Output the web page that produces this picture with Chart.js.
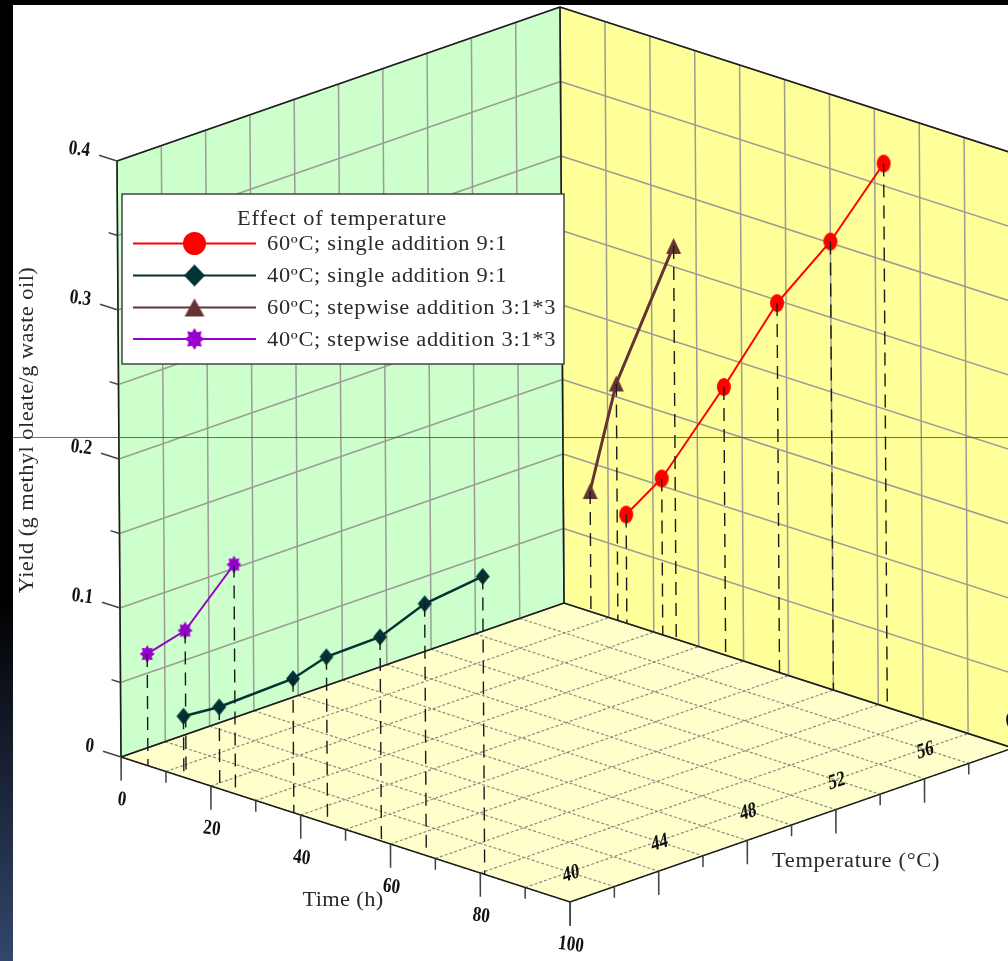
<!DOCTYPE html>
<html>
<head>
<meta charset="utf-8">
<title>Effect of temperature</title>
<script src="https://cdn.jsdelivr.net/npm/chart.js@4/dist/chart.umd.min.js"></script>
<style>
    html, body { margin: 0; padding: 0; background: #fff; overflow: hidden; }
    #wrap { position: relative; width: 1008px; height: 961px; }
    #franjaIzq { position: absolute; left: 0; top: 0; width: 13px; height: 961px; background: linear-gradient(#000 0%, #000 62%, #33466c 100%); }
    #franjaSup { position: absolute; left: 0; top: 0; width: 1008px; height: 5px; background: #000; }
    #rayaHoriz { position: absolute; left: 13px; top: 437px; width: 995px; height: 1px; background: rgba(60, 70, 60, 0.75); }
</style>
</head>
<body>
<div id="wrap">
    <canvas id="grafico" width="1008" height="961"></canvas>
    <div id="franjaIzq"></div>
    <div id="franjaSup"></div>
    <div id="rayaHoriz"></div>
</div>
<script>
// Series: time (h) and yield
const tiempo60Simple = [14, 22, 36, 48, 60, 72];
const yield60Simple = [0.073, 0.105, 0.18, 0.248, 0.301, 0.365];
const tiempo40Simple = [14, 22, 38.5, 46, 58, 68, 81];
const yield40Simple = [0.041, 0.055, 0.09, 0.112, 0.137, 0.169, 0.2];
const tiempo60Step = [6, 12, 25];
const yield60Step = [0.081, 0.159, 0.264];
const tiempo40Step = [6, 14.5, 25.5];
const yield40Step = [0.075, 0.099, 0.154];

const ticksTiempo = [0, 20, 40, 60, 80, 100];
const ticksTemp = [40, 44, 48, 52, 56, 60];
const ticksYield = [0, 0.1, 0.2, 0.3, 0.4];
const gridTiempo = [0, 10, 20, 30, 40, 50, 60, 70, 80, 90, 100];
const gridTemp = [40, 42, 44, 46, 48, 50, 52, 54, 56, 58, 60];
const gridYield = [0, 0.05, 0.1, 0.15, 0.2, 0.25, 0.3, 0.35, 0.4];

const tituloLeyenda = "Effect of temperature";
const etiquetas = [
    "60ºC; single addition 9:1",
    "40ºC; single addition 9:1",
    "60ºC; stepwise addition 3:1*3",
    "40ºC; stepwise addition 3:1*3"
];
const colores = ["#ff0000", "#003333", "#663333", "#9900cc"];

// Oblique projection of (time, temperature, yield) to the chart's x/y scales
function proyectar(t, temp, y) {
    return {
        x: 121 + 4.49 * t + 22.15 * (temp - 40) - 10 * y,
        y: 757 + 1.45 * t - 7.7 * (temp - 40) - 1490 * y
    };
}

// Markers are taller than wide, as in the tilted plot
function crearMarcador(tipo, w, h, color) {
    const c = document.createElement("canvas");
    c.width = w + 2;
    c.height = h + 2;
    const g = c.getContext("2d");
    const cx = c.width / 2, cy = c.height / 2;
    g.fillStyle = color;
    g.beginPath();
    if (tipo === "circulo") {
        g.ellipse(cx, cy, w / 2, h / 2, 0, 0, Math.PI * 2);
    } else if (tipo === "rombo") {
        g.moveTo(cx, cy - h / 2);
        g.lineTo(cx + w / 2, cy);
        g.lineTo(cx, cy + h / 2);
        g.lineTo(cx - w / 2, cy);
    } else if (tipo === "triangulo") {
        g.moveTo(cx, cy - h / 2);
        g.lineTo(cx + w / 2, cy + h / 2);
        g.lineTo(cx - w / 2, cy + h / 2);
    } else {
        for (let i = 0; i < 16; i++) {
            const r = i % 2 === 0 ? 1 : 0.66;
            const a = i * Math.PI / 8 - Math.PI / 2;
            g.lineTo(cx + Math.cos(a) * r * w / 2, cy + Math.sin(a) * r * h / 2);
        }
    }
    g.closePath();
    g.fill();
    return c;
}

function linea(puntos, color, ancho, dash) {
    return {
        data: puntos,
        showLine: true,
        borderColor: color,
        borderWidth: ancho,
        borderDash: dash || [],
        pointRadius: 0,
        fill: false
    };
}

function plano(puntos, color) {
    return {
        data: puntos.concat([puntos[0]]),
        showLine: true,
        borderColor: color,
        backgroundColor: color,
        borderWidth: 0,
        pointRadius: 0,
        fill: "shape"
    };
}

const datasets = [];
const tMax = 100, tempMin = 40, tempMax = 60, yMax = 0.4;

// Walls and floor
datasets.push(plano([proyectar(0, tempMax, 0), proyectar(tMax, tempMax, 0), proyectar(tMax, tempMax, yMax), proyectar(0, tempMax, yMax)], "#ffff99"));
datasets.push(plano([proyectar(0, tempMin, 0), proyectar(0, tempMax, 0), proyectar(0, tempMax, yMax), proyectar(0, tempMin, yMax)], "#ccffcc"));
datasets.push(plano([proyectar(0, tempMin, 0), proyectar(tMax, tempMin, 0), proyectar(tMax, tempMax, 0), proyectar(0, tempMax, 0)], "#ffffcc"));

// Grid lines
const grisPared = "#9c9c94", grisPiso = "#8c8c84";
gridYield.forEach((y) => {
    datasets.push(linea([proyectar(0, tempMin, y), proyectar(0, tempMax, y)], grisPared, 1.5));
    datasets.push(linea([proyectar(0, tempMax, y), proyectar(tMax, tempMax, y)], grisPared, 1.5));
});
gridTemp.forEach((temp) => {
    datasets.push(linea([proyectar(0, temp, 0), proyectar(0, temp, yMax)], grisPared, 1.5));
    datasets.push(linea([proyectar(0, temp, 0), proyectar(tMax, temp, 0)], grisPiso, 1.2, [3, 2]));
});
gridTiempo.forEach((t) => {
    datasets.push(linea([proyectar(t, tempMax, 0), proyectar(t, tempMax, yMax)], grisPared, 1.5));
    datasets.push(linea([proyectar(t, tempMin, 0), proyectar(t, tempMax, 0)], grisPiso, 1.2, [3, 2]));
});

// Box edges
const negro = "#1c1c1c";
datasets.push(linea([proyectar(0, tempMin, 0), proyectar(tMax, tempMin, 0), proyectar(tMax, tempMax, 0)], negro, 1.6));
datasets.push(linea([proyectar(0, tempMin, 0), proyectar(0, tempMax, 0), proyectar(tMax, tempMax, 0)], negro, 1.6));
datasets.push(linea([proyectar(0, tempMin, 0), proyectar(0, tempMin, yMax), proyectar(0, tempMax, yMax), proyectar(tMax, tempMax, yMax)], negro, 1.6));
datasets.push(linea([proyectar(0, tempMax, 0), proyectar(0, tempMax, yMax)], negro, 1.6));

// Axis ticks, long on labelled values and short in between
const grisTick = "#444444";
gridTiempo.forEach((t) => {
    const largo = ticksTiempo.includes(t) ? 0.016 : 0.0075;
    datasets.push(linea([proyectar(t, tempMin, 0), proyectar(t, tempMin, -largo)], grisTick, 1.5));
});
gridTemp.forEach((temp) => {
    const largo = ticksTemp.includes(temp) ? 0.016 : 0.0075;
    datasets.push(linea([proyectar(tMax, temp, 0), proyectar(tMax, temp, -largo)], grisTick, 1.5));
});
gridYield.forEach((y) => {
    const largo = ticksYield.includes(y) ? 4 : 2;
    datasets.push(linea([proyectar(0, tempMin, y), proyectar(-largo, tempMin, y)], grisTick, 1.5));
});

// Data series with their drop lines
const series = [
    { t: tiempo60Simple, y: yield60Simple, temp: 60, tipo: "circulo", w: 14, h: 18, ancho: 2 },
    { t: tiempo40Simple, y: yield40Simple, temp: 40, tipo: "rombo", w: 14, h: 17, ancho: 2.5 },
    { t: tiempo60Step, y: yield60Step, temp: 60, tipo: "triangulo", w: 15, h: 16, ancho: 3 },
    { t: tiempo40Step, y: yield40Step, temp: 40, tipo: "estrella", w: 15, h: 18, ancho: 2 }
];
const marcasLeyenda = [
    crearMarcador("circulo", 23, 23, colores[0]),
    crearMarcador("rombo", 21, 22, colores[1]),
    crearMarcador("triangulo", 20, 18, colores[2]),
    crearMarcador("estrella", 20, 22, colores[3])
];

series.forEach((s, i) => {
    datasets.push({
        data: s.t.map((t, k) => proyectar(t, s.temp, s.y[k])),
        showLine: true,
        borderColor: colores[i],
        borderWidth: s.ancho,
        pointStyle: crearMarcador(s.tipo, s.w, s.h, colores[i]),
        pointRadius: 8,
        fill: false
    });
});
series.forEach((s) => {
    s.t.forEach((t, k) => {
        datasets.push(linea([proyectar(t, s.temp, s.y[k]), proyectar(t, s.temp, 0)], "#1a1a1a", 1.4, [13, 8]));
    });
});

// Chart.js paints the first dataset last, so flip to keep the walls at the back
datasets.reverse();

function texto(ctx, str, x, y, opts) {
    ctx.save();
    ctx.translate(x, y);
    ctx.rotate((opts.rot || 0) * Math.PI / 180);
    if (opts.skew) ctx.transform(1, 0, opts.skew, 1, 0, 0);
    if (opts.sx) ctx.scale(opts.sx, 1);
    ctx.font = opts.font;
    ctx.letterSpacing = opts.espacio || "0px";
    ctx.textAlign = opts.align || "center";
    ctx.textBaseline = "middle";
    ctx.fillStyle = opts.color || "#111";
    ctx.fillText(str, 0, 0);
    ctx.restore();
}

const fuenteTick = "bold 21px 'Liberation Serif'";
const fuenteTexto = "20px 'Liberation Serif'";
const colorTexto = "#2a2a2a";
const anchoTexto = 1.12;

// Tick labels, axis titles and legend box
const plugTextos = {
    id: "textos",
    afterDatasetsDraw(chart) {
        const ctx = chart.ctx;
        const sx = chart.scales.x, sy = chart.scales.y;
        const px = (p) => ({ x: sx.getPixelForValue(p.x), y: sy.getPixelForValue(p.y) });

        ticksTiempo.forEach((t) => {
            const p = px(proyectar(t, tempMin, 0));
            texto(ctx, String(t), p.x + 1, p.y + 43, { font: fuenteTick, sx: 0.82, rot: 7 });
        });
        ticksTemp.forEach((temp) => {
            const p = px(proyectar(tMax, temp, 0));
            texto(ctx, String(temp), p.x + 1, p.y - 28, { font: fuenteTick, sx: 0.82, rot: -18, skew: -0.2 });
        });
        ticksYield.forEach((y) => {
            const p = px(proyectar(0, tempMin, y));
            texto(ctx, String(y), p.x - 27, p.y - 10, { font: fuenteTick, sx: 0.82, rot: 7, align: "right" });
        });

        texto(ctx, "Time (h)", 343, 901, { font: fuenteTexto, sx: anchoTexto, espacio: "0.33px", color: colorTexto });
        texto(ctx, "Temperature (°C)", 856, 862, { font: fuenteTexto, sx: anchoTexto, espacio: "0.6px", color: colorTexto });
        texto(ctx, "Yield (g methyl oleate/g waste oil)", 28, 430, { font: fuenteTexto, sx: anchoTexto, espacio: "0.41px", rot: -90, color: colorTexto });

        // Legend
        ctx.save();
        ctx.fillStyle = "#fff";
        ctx.strokeStyle = "#444";
        ctx.lineWidth = 1.5;
        ctx.fillRect(122, 194, 442, 170);
        ctx.strokeRect(122, 194, 442, 170);
        ctx.restore();
        texto(ctx, tituloLeyenda, 342, 220, { font: fuenteTexto, sx: anchoTexto, espacio: "0.8px", color: colorTexto });
        const filas = [243.5, 275.5, 307.5, 339];
        etiquetas.forEach((e, i) => {
            ctx.save();
            ctx.strokeStyle = colores[i];
            ctx.lineWidth = 2;
            ctx.beginPath();
            ctx.moveTo(133, filas[i]);
            ctx.lineTo(256, filas[i]);
            ctx.stroke();
            ctx.restore();
            const m = marcasLeyenda[i];
            ctx.drawImage(m, 194.5 - m.width / 2, filas[i] - m.height / 2);
            texto(ctx, e, 267, filas[i] + 1.5, { font: fuenteTexto, sx: anchoTexto, espacio: "0.62px", align: "left", color: colorTexto });
        });
    }
};

new Chart(document.getElementById("grafico").getContext("2d"), {
    type: "scatter",
    data: { datasets: datasets },
    options: {
        responsive: false,
        animation: false,
        events: [],
        layout: { padding: 0, autoPadding: false },
        plugins: { legend: { display: false }, tooltip: { enabled: false }, title: { display: false } },
        scales: {
            x: { type: "linear", min: 0, max: 1008, display: false },
            y: { type: "linear", min: 0, max: 961, reverse: true, display: false }
        }
    },
    plugins: [plugTextos]
});
</script>
</body>
</html>
